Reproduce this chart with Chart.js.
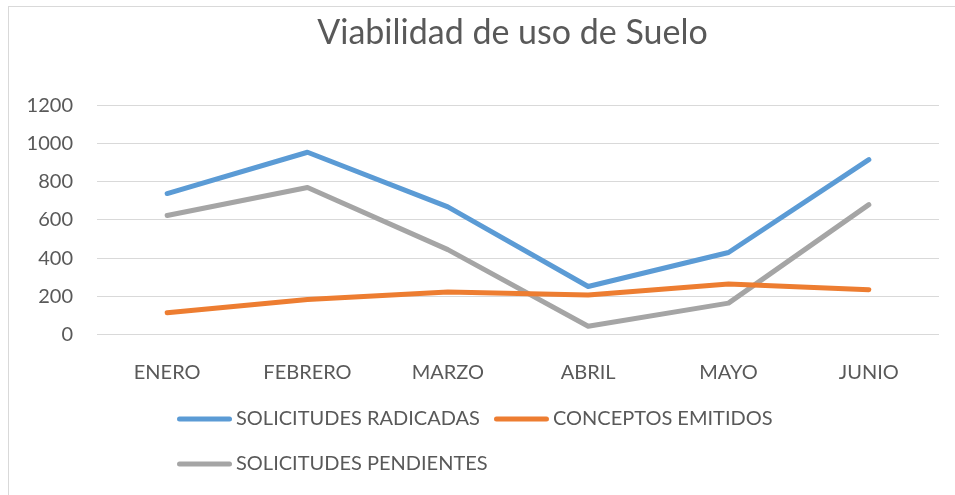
<!DOCTYPE html>
<html>
<head>
<meta charset="utf-8">
<script src="https://cdn.jsdelivr.net/npm/chart.js@4.4.1/dist/chart.umd.min.js"></script>
<style>
  body { margin: 0; overflow: hidden; background: #fff; }
  #marco { position: absolute; left: 8px; top: 6px; width: 1007px; height: 500px; border: 1px solid #d9d9d9; background: #fff; }
</style>
</head>
<body>
<div id="marco"><canvas id="myChart"></canvas></div>
<script>
// datos
const meses = ["ENERO", "FEBRERO", "MARZO", "ABRIL", "MAYO", "JUNIO"];
const radicadas = [738, 954, 668, 252, 430, 915];
const emitidos = [115, 184, 223, 208, 265, 235];
const pendientes = [623, 770, 445, 44, 165, 680];
const nombres = ["SOLICITUDES RADICADAS", "CONCEPTOS EMITIDOS", "SOLICITUDES PENDIENTES"];
const colores = ["#5b9bd5", "#ed7d31", "#a5a5a5"];
const yMin = 0, yMax = 1200, yPaso = 200;

const gris = "#595959";
const fuente = "Lato, 'Open Sans', sans-serif";

// simbolo de leyenda: linea gruesa con puntas redondas
function simbolo(color) {
    let c = document.createElement("canvas");
    c.width = 60;
    c.height = 8;
    let g = c.getContext("2d");
    g.strokeStyle = color;
    g.lineWidth = 5;
    g.lineCap = "round";
    g.beginPath();
    g.moveTo(2.5, 4);
    g.lineTo(52.5, 4);
    g.stroke();
    return c;
}
const simbolos = colores.map(simbolo);

// la leyenda de Excel va en dos filas alineadas a la izquierda,
// y el titulo se centra en todo el ancho del marco
const posiciones = {
    id: "posiciones",
    beforeDraw(chart) {
        let lg = chart.legend;
        lg.left = 154;
        lg.top = 377;
        let t = chart.titleBlock;
        t.left = 0;
        t.right = chart.width;
        t.width = chart.width;
    }
};

function serie(i, datos) {
    return {
        label: nombres[i],
        data: datos,
        borderColor: colores[i],
        backgroundColor: colores[i],
        borderWidth: 5,
        borderCapStyle: "round",
        borderJoinStyle: "round",
        pointRadius: 0,
        pointHoverRadius: 0,
        tension: 0,
        fill: false
    };
}

let graficar = document.getElementById("myChart").getContext("2d");
let myChart = new Chart(graficar, {
    type: "line",
    data: {
        labels: meses,
        datasets: [serie(0, radicadas), serie(1, emitidos), serie(2, pendientes)]
    },
    options: {
        responsive: true,
        maintainAspectRatio: false,
        animation: false,
        layout: { padding: { left: 0, right: 77, top: 0, bottom: 0 } },
        plugins: {
            tooltip: { enabled: false },
            title: {
                display: true,
                text: "Viabilidad de uso de Suelo",
                color: gris,
                font: { family: fuente, size: 34, weight: "normal" },
                padding: { top: 6, bottom: 51.4 }
            },
            legend: {
                position: "bottom",
                align: "start",
                maxHeight: 55,
                labels: {
                    color: gris,
                    font: { family: fuente, size: 20 },
                    usePointStyle: true,
                    pointStyleWidth: 38,
                    padding: 25,
                    generateLabels(chart) {
                        let items = Chart.defaults.plugins.legend.labels.generateLabels(chart);
                        items.forEach((it, i) => { it.pointStyle = simbolos[i]; });
                        return items;
                    }
                }
            }
        },
        scales: {
            x: {
                offset: true,
                grid: { display: false },
                border: { display: false },
                ticks: { color: gris, font: { family: fuente, size: 20 }, padding: 18 },
                afterFit(scale) { scale.height = 117.3; }
            },
            y: {
                min: yMin,
                max: yMax,
                grid: { color: "#d9d9d9", lineWidth: 1, drawTicks: false },
                border: { display: false },
                ticks: {
                    stepSize: yPaso,
                    color: gris,
                    font: { family: fuente, size: 20 },
                    padding: 24,
                    callback: function (v) { return String(v); }
                },
                afterFit(scale) { scale.width = 88; }
            }
        }
    },
    plugins: [posiciones]
});
</script>
</body>
</html>
